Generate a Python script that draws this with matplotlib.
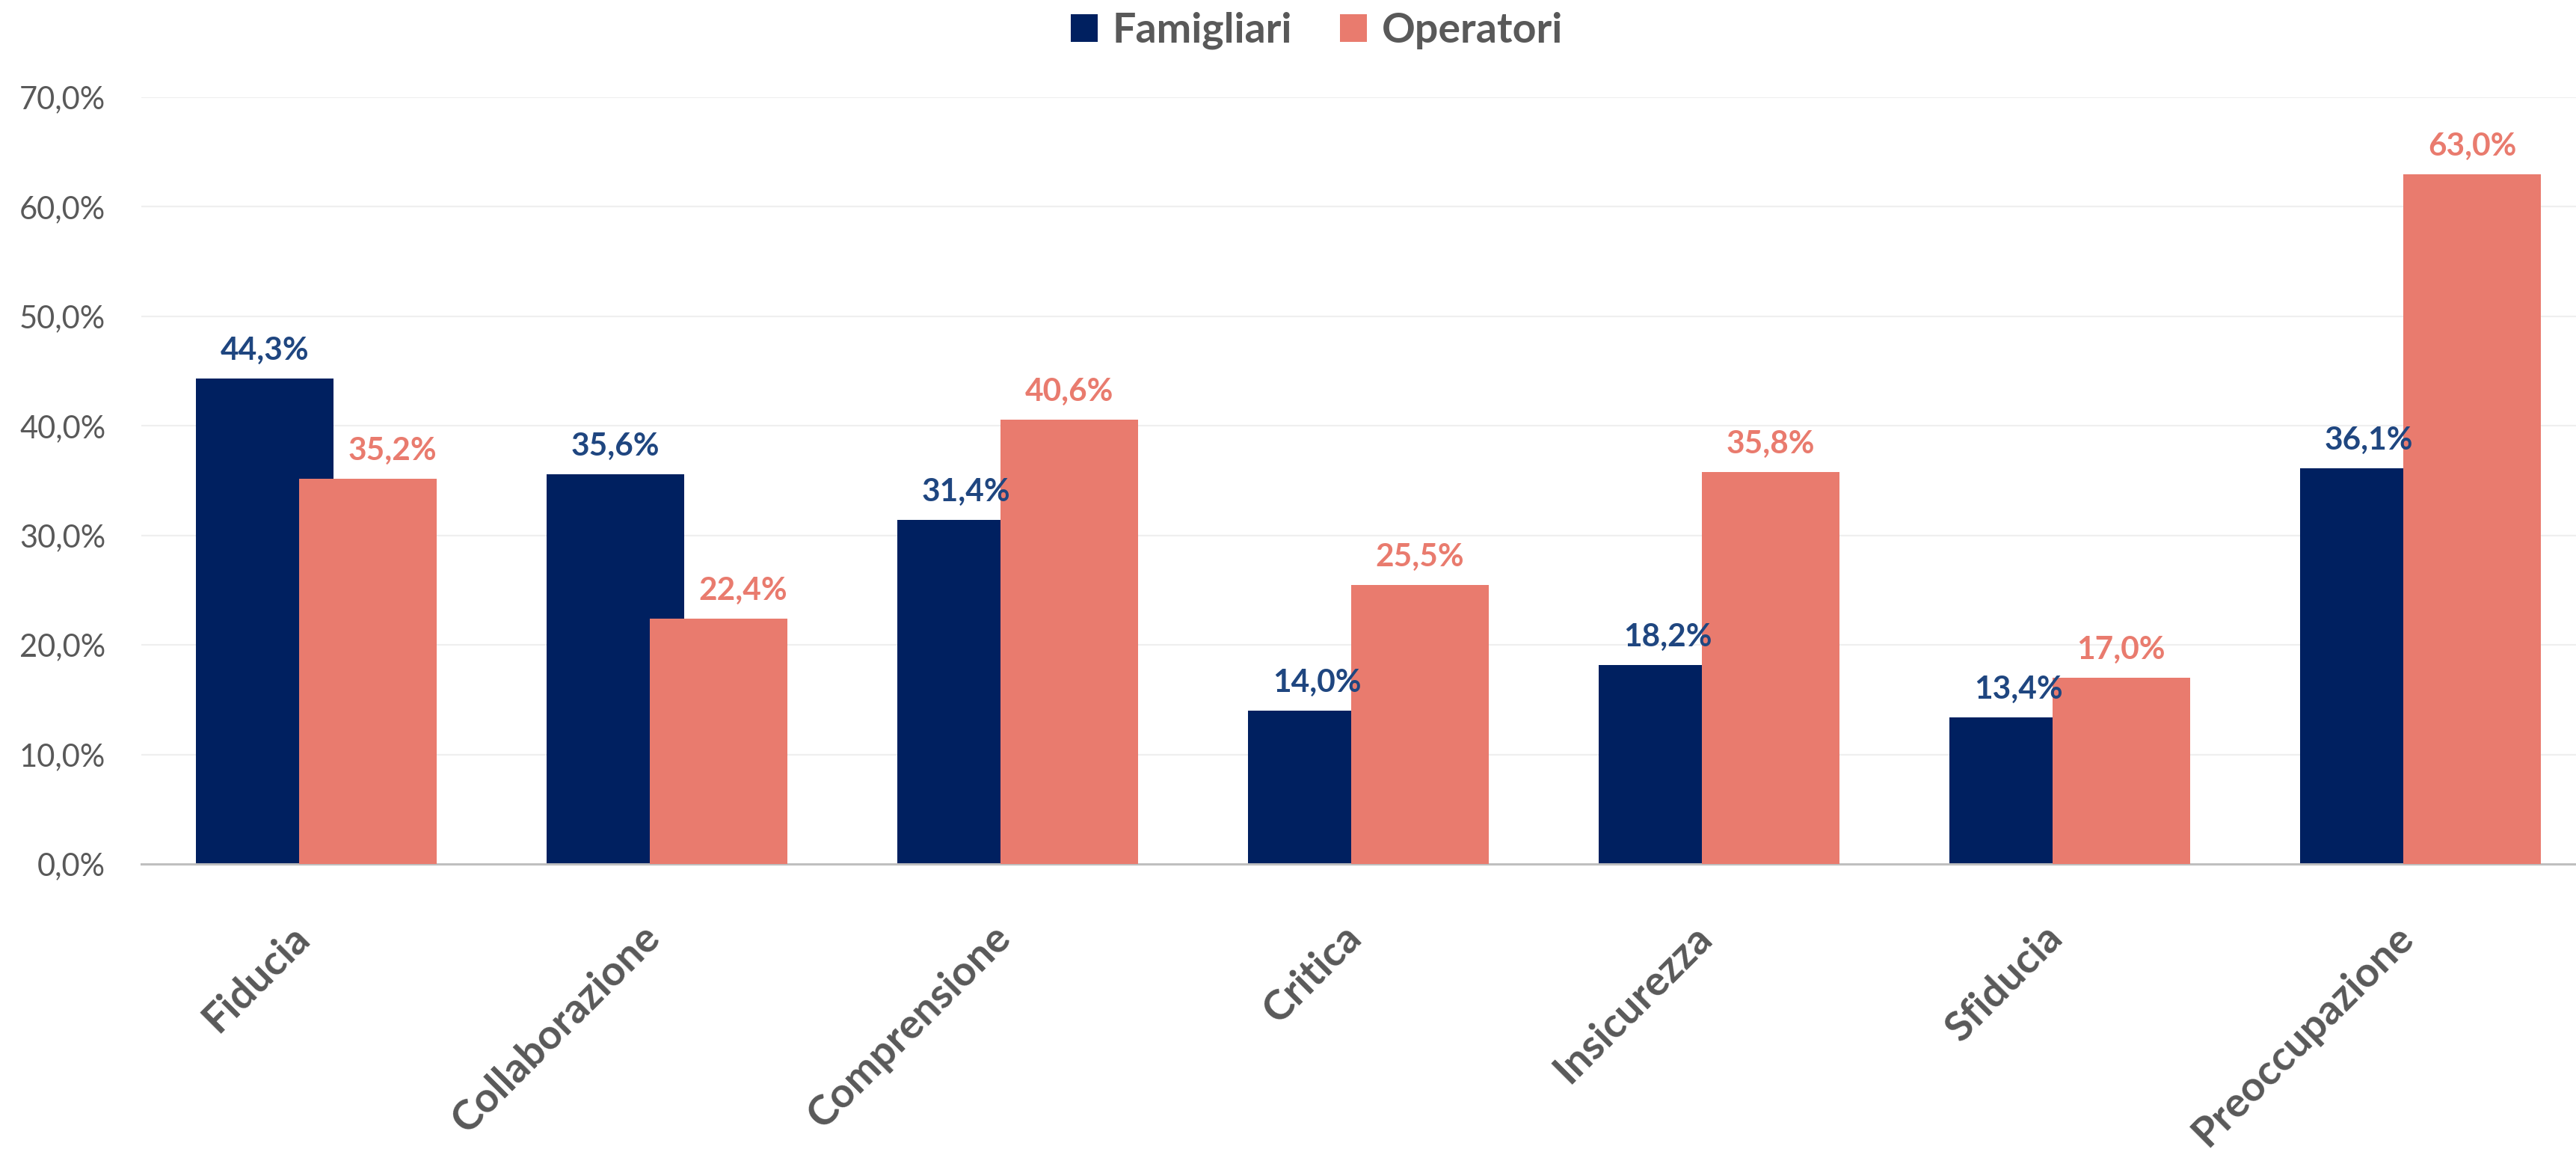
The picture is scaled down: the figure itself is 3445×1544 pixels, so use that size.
import numpy as np
import matplotlib
matplotlib.use("Agg")
import matplotlib.pyplot as plt
from matplotlib.ticker import FuncFormatter

# dati
categorie = ["Fiducia", "Collaborazione", "Comprensione", "Critica",
             "Insicurezza", "Sfiducia", "Preoccupazione"]
famigliari = [44.3, 35.6, 31.4, 14.0, 18.2, 13.4, 36.1]
operatori = [35.2, 22.4, 40.6, 25.5, 35.8, 17.0, 63.0]
serie = ["Famigliari", "Operatori"]

# spostamento orizzontale di alcune etichette (come nel grafico originale)
nudge_operatori = [0.07, 0.07, 0, 0, 0, 0, 0]

col_fam = "#002060"
col_op = "#E97B6E"
col_lab_fam = "#1F4680"
grigio = "#595959"

plt.rcParams['font.family'] = ['Lato', 'DejaVu Sans']

W, H = 3445, 1544
fig = plt.figure(figsize=(W/100, H/100), dpi=100)
ax = fig.add_axes([188.5/W, 1-1155/H, 3283/W, (1155-130)/H])

x = np.arange(len(categorie))
w = 0.392
off = 0.75*w/2

b1 = ax.bar(x - off, famigliari, w, color=col_fam, zorder=2, label=serie[0])
b2 = ax.bar(x + off, operatori, w, color=col_op, zorder=3, label=serie[1])

for xi, v in zip(x - off, famigliari):
    ax.annotate(f"{v:.1f}%".replace(".", ","), (xi, v), xytext=(0, 18),
                textcoords="offset points", ha="center", va="baseline",
                fontsize=30.5, fontweight="bold", color=col_lab_fam, zorder=4)
for xi, v, n in zip(x + off, operatori, nudge_operatori):
    ax.annotate(f"{v:.1f}%".replace(".", ","), (xi + n, v), xytext=(0, 18),
                textcoords="offset points", ha="center", va="baseline",
                fontsize=30.5, fontweight="bold", color=col_op, zorder=4)

ax.set_xlim(-0.5, len(categorie) - 0.5)
ax.set_ylim(0, 70)
ax.set_yticks(np.arange(0, 71, 10))
ax.yaxis.set_major_formatter(FuncFormatter(lambda v, p: f"{v:.1f}%".replace(".", ",")))
ax.grid(axis="y", color="#EFEFEF", lw=1.6, zorder=0)
ax.set_axisbelow(True)

for s in ["top", "right", "left"]:
    ax.spines[s].set_visible(False)
ax.spines["bottom"].set_color("#BFBFBF")
ax.spines["bottom"].set_linewidth(2.2)

ax.tick_params(axis="y", length=0, pad=34, labelsize=30, labelcolor=grigio)
ax.tick_params(axis="x", length=0, pad=52)
ax.set_xticks(x)
ax.set_xticklabels(categorie, rotation=45, ha="right", va="top",
                   fontsize=40, fontweight="bold", color=grigio)

fig.legend(handles=[b1, b2], loc="center", bbox_to_anchor=(1761/W, 1-41/H),
           ncol=2, frameon=False,
           prop={"weight": "bold", "size": 40},
           handlelength=0.65, handleheight=0.65, handletextpad=0.35,
           columnspacing=1.15, labelcolor=grigio)

fig.savefig("out.png", dpi=100)
